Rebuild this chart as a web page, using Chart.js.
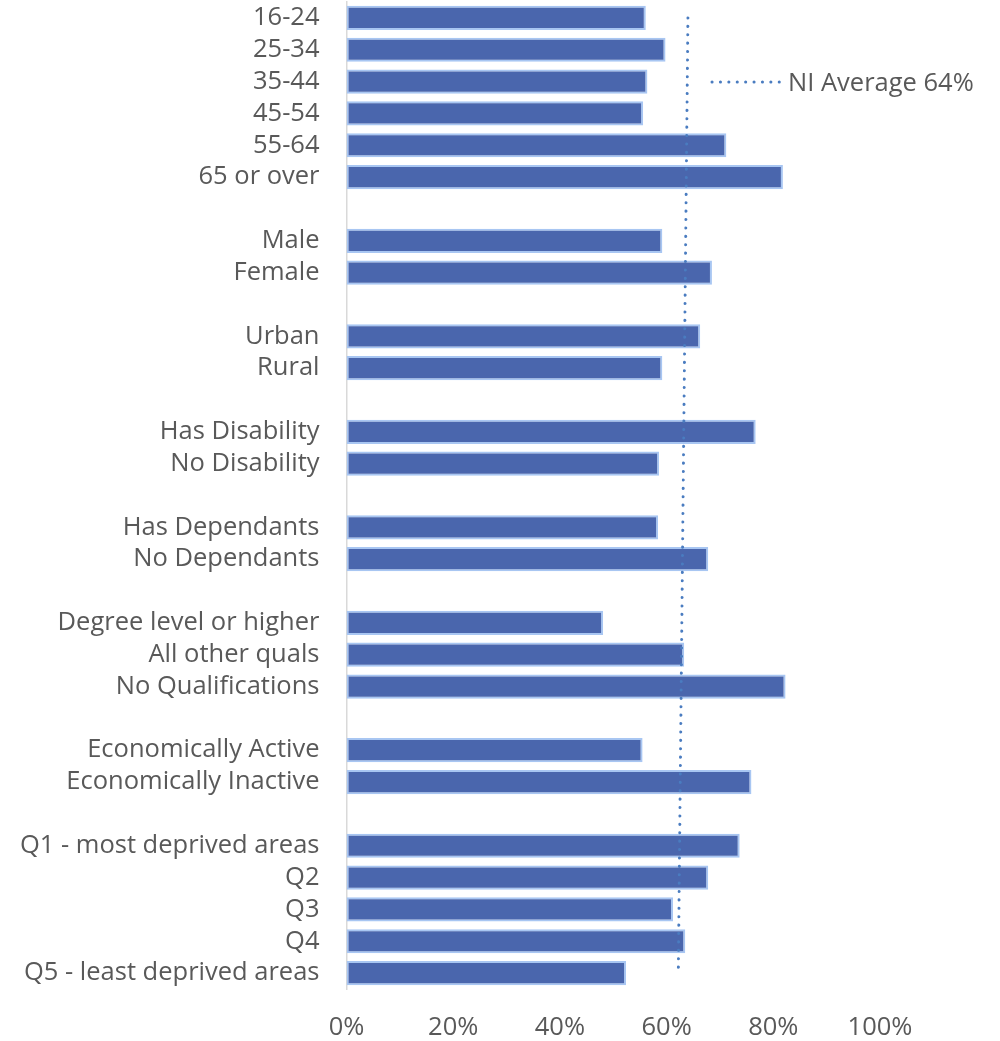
<!DOCTYPE html>
<html>
<head>
<meta charset="utf-8">
<script src="https://cdn.jsdelivr.net/npm/chart.js@4/dist/chart.umd.min.js"></script>
<style>
html,body{margin:0;padding:0;background:#fff;}
#wrap{width:1000px;height:1041px;position:relative;}
</style>
</head>
<body>
<div id="wrap"><canvas id="c" width="1000" height="1041"></canvas></div>
<script>
const categories = [
  '16-24','25-34','35-44','45-54','55-64','65 or over','',
  'Male','Female','',
  'Urban','Rural','',
  'Has Disability','No Disability','',
  'Has Dependants','No Dependants','',
  'Degree level or higher','All other quals','No Qualifications','',
  'Economically Active','Economically Inactive','',
  'Q1 - most deprived areas','Q2','Q3','Q4','Q5 - least deprived areas'
];
const values = [
  56.1, 59.8, 56.4, 55.6, 71.2, 81.8, null,
  59.2, 68.5, null,
  66.3, 59.2, null,
  76.7, 58.6, null,
  58.4, 67.8, null,
  48.1, 63.3, 82.3, null,
  55.5, 75.9, null,
  73.7, 67.8, 61.2, 63.5, 52.4
];
const avgLabel = 'NI Average 64%';
const avgEnds = [64.0, 62.2]; // top and bottom of the average line as drawn
const xTicks = [0, 20, 40, 60, 80, 100];

const avgData = categories.map((c, i) => i === 0 ? avgEnds[0] : (i === categories.length - 1 ? avgEnds[1] : null));

const FONT = "'Open Sans', 'Noto Sans', sans-serif";
const FS = 25.5;
const TXT = '#595959';
const LINECOL = '#4a7cc0';

const legendPlugin = {
  id: 'avgLegend',
  afterDraw(chart) {
    const ctx = chart.ctx;
    ctx.save();
    ctx.strokeStyle = LINECOL;
    ctx.lineWidth = 3;
    ctx.lineCap = 'round';
    ctx.setLineDash([0.1, 8.3]);
    ctx.beginPath();
    ctx.moveTo(712, 82);
    ctx.lineTo(781, 82);
    ctx.stroke();
    ctx.setLineDash([]);
    ctx.fillStyle = TXT;
    ctx.font = FS + "px " + FONT;
    ctx.textBaseline = 'middle';
    ctx.textAlign = 'left';
    ctx.fillText(avgLabel, 788, 84);
    ctx.restore();
  }
};

function zeroPad(scale) {
  scale.paddingTop = 0; scale.paddingBottom = 0;
  scale.paddingLeft = 0; scale.paddingRight = 0;
}

new Chart(document.getElementById('c'), {
  data: {
    labels: categories,
    datasets: [
      {
        type: 'line',
        label: avgLabel,
        data: avgData,
        spanGaps: true,
        borderColor: LINECOL,
        borderWidth: 3,
        borderCapStyle: 'round',
        borderDash: [0.1, 8.3],
        pointRadius: 0,
        fill: false,
        clip: false,
        order: 0
      },
      {
        type: 'bar',
        label: 'Share',
        data: values,
        backgroundColor: '#4a66ad',
        borderColor: '#a8c6f2',
        borderWidth: 2,
        borderSkipped: false,
        barPercentage: 0.76,
        categoryPercentage: 1,
        order: 1
      }
    ]
  },
  options: {
    indexAxis: 'y',
    responsive: false,
    animation: false,
    layout: { padding: { top: 2, right: 120, bottom: 0, left: 0 } },
    plugins: { legend: { display: false }, tooltip: { enabled: false } },
    scales: {
      x: {
        type: 'linear',
        min: 0, max: 100,
        afterBuildTicks(scale) { scale.ticks = xTicks.map(v => ({ value: v })); },
        afterFit(scale) { scale.height = 52; zeroPad(scale); },
        grid: { display: false, drawTicks: false },
        border: { display: false },
        ticks: {
          padding: 23,
          color: TXT,
          font: { family: FONT, size: FS },
          callback: v => v + '%'
        }
      },
      y: {
        type: 'category',
        afterFit(scale) { scale.width = 346.5; zeroPad(scale); },
        grid: { display: false, drawTicks: false },
        border: { display: true, color: '#d9d9d9', width: 1.5 },
        ticks: {
          padding: 27,
          autoSkip: false,
          color: TXT,
          font: { family: FONT, size: FS }
        }
      }
    }
  },
  plugins: [legendPlugin]
});
</script>
</body>
</html>
